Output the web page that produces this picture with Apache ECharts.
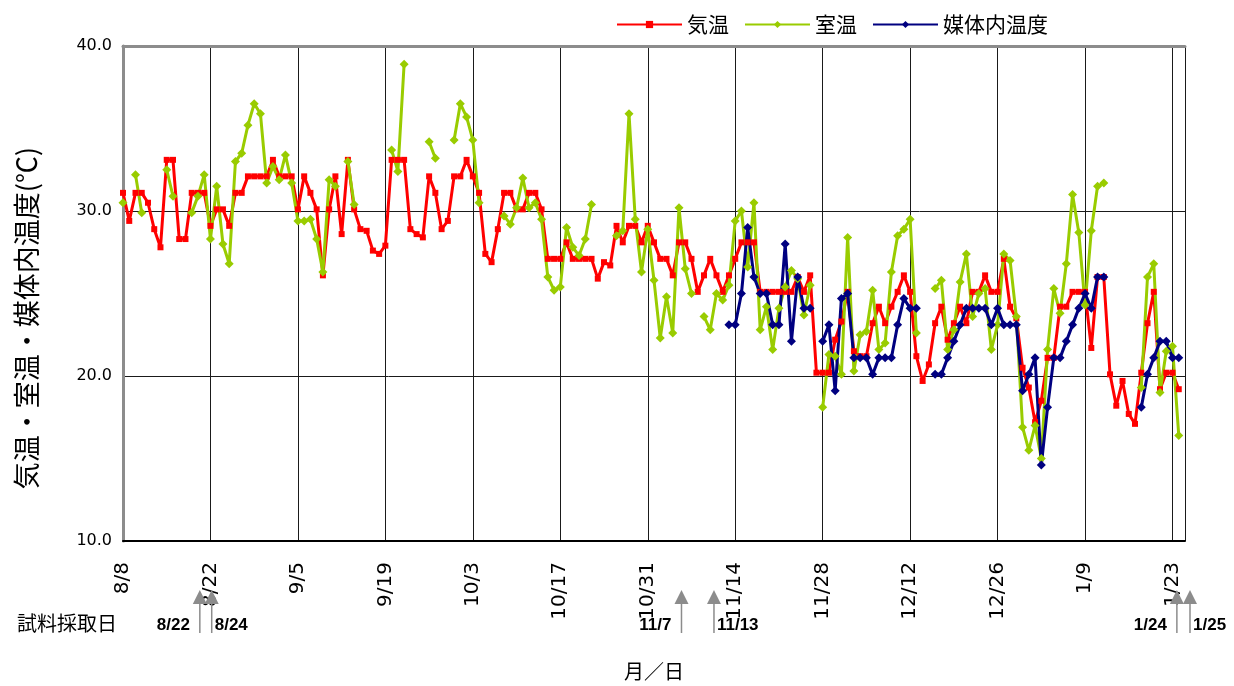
<!DOCTYPE html>
<html>
<head>
<meta charset="utf-8">
<script src="https://cdn.jsdelivr.net/npm/echarts@6/dist/echarts.min.js"></script>
<style>
  html, body { margin: 0; padding: 0; background: #ffffff; }
  #chart { width: 1234px; height: 686px; }
</style>
</head>
<body>
<div id="chart"></div>
<script>
// Day 0 = 8/8; one value per day, null where nothing was recorded.
const dayTickLabels = ['8/8', '8/22', '9/5', '9/19', '10/3', '10/17', '10/31',
  '11/14', '11/28', '12/12', '12/26', '1/9', '1/23'];

// 気温
const airTemp = [
  31.1, 29.4, 31.1, 31.1, 30.5, 28.9, 27.8, 33.1, 33.1, 28.3,
  28.3, 31.1, 31.1, 31.1, 29.1, 30.1, 30.1, 29.1, 31.1, 31.1,
  32.1, 32.1, 32.1, 32.1, 33.1, 32.1, 32.1, 32.1, 30.1, 32.1,
  31.1, 30.1, 26.1, 30.1, 32.1, 28.6, 33.1, 30.1, 28.9, 28.8,
  27.6, 27.4, 27.9, 33.1, 33.1, 33.1, 28.9, 28.6, 28.4, 32.1,
  31.1, 28.9, 29.4, 32.1, 32.1, 33.1, 32.1, 31.1, 27.4, 26.9,
  28.9, 31.1, 31.1, 30.1, 30.1, 31.1, 31.1, 30.1, 27.1, 27.1,
  27.1, 28.1, 27.1, 27.1, 27.1, 27.1, 25.9, 26.9, 26.7, 29.1,
  28.1, 29.1, 29.1, 28.1, 29.1, 28.1, 27.1, 27.1, 26.1, 28.1,
  28.1, 27.1, 25.1, 26.1, 27.1, 26.1, 25.1, 26.1, 27.1, 28.1,
  28.1, 28.1, 25.1, 25.1, 25.1, 25.1, 25.1, 25.1, 26.0, 25.1,
  26.1, 20.2, 20.2, 20.2, 22.2, 23.3, 25.1, 21.5, 21.2, 21.2,
  23.2, 24.2, 23.2, 24.2, 25.1, 26.1, 25.1, 21.2, 19.7, 20.7,
  23.2, 24.2, 22.2, 23.2, 24.2, 23.2, 25.1, 25.1, 26.1, 25.1,
  25.1, 27.1, 24.2, 23.5, 20.5, 19.3, 17.2, 18.5, 21.1, 21.1,
  24.2, 24.2, 25.1, 25.1, 25.1, 21.7, 26.0, 26.0, 20.1, 18.2,
  19.7, 17.7, 17.1, 20.2, 23.2, 25.1, 19.2, 20.2, 20.2, 19.2
];

// 室温
const roomTemp = [
  30.5, null, 32.2, 29.9, null, null, null, 32.5, 30.9, null,
  null, 29.9, 30.9, 32.2, 28.3, 31.5, 28.0, 26.8, 33.0, 33.5,
  35.2, 36.5, 35.9, 31.7, 32.7, 31.9, 33.4, 31.7, 29.4, 29.4,
  29.5, 28.3, 26.3, 31.9, 31.5, null, 33.0, 30.4, null, null,
  null, null, null, 33.7, 32.4, 38.9, null, null, null, 34.2,
  33.2, null, null, 34.3, 36.5, 35.7, 34.3, 30.5, null, null,
  null, 29.7, 29.2, 30.2, 32.0, 30.2, 30.5, 29.5, 26.0, 25.2,
  25.4, 29.0, 27.8, 27.3, 28.3, 30.4, null, null, null, 28.5,
  28.8, 35.9, 29.5, 26.3, 28.9, 25.8, 22.3, 24.8, 22.6, 30.2,
  26.5, 25.0, null, 23.6, 22.8, 25.0, 24.6, 25.5, 29.4, 30.0,
  26.6, 30.5, 22.8, 24.2, 21.6, 24.1, 25.4, 26.4, 25.9, 23.7,
  25.5, null, 18.1, 21.3, 21.2, 20.1, 28.4, 20.3, 22.5, 22.7,
  25.2, 21.6, 22.0, 26.3, 28.5, 28.9, 29.5, 22.6, null, null,
  25.3, 25.8, 21.6, 22.8, 25.7, 27.4, 23.6, 25.0, 25.3, 21.6,
  23.1, 27.4, 27.0, 23.6, 16.9, 15.5, 17.0, 15.0, 21.6, 25.3,
  23.8, 26.8, 31.0, 28.7, 24.3, 28.8, 31.5, 31.7, null, null,
  null, null, null, 19.3, 26.0, 26.8, 19.0, 21.5, 21.8, 16.4
];

// 媒体内温度 (recorded from 11/13)
const mediumTemp = [
  null, null, null, null, null, null, null, null, null, null,
  null, null, null, null, null, null, null, null, null, null,
  null, null, null, null, null, null, null, null, null, null,
  null, null, null, null, null, null, null, null, null, null,
  null, null, null, null, null, null, null, null, null, null,
  null, null, null, null, null, null, null, null, null, null,
  null, null, null, null, null, null, null, null, null, null,
  null, null, null, null, null, null, null, null, null, null,
  null, null, null, null, null, null, null, null, null, null,
  null, null, null, null, null, null, null, 23.1, 23.1, 25.0,
  29.0, 26.0, 25.0, 25.0, 23.1, 23.1, 28.0, 22.1, 26.0, 24.1,
  24.1, null, 22.1, 23.1, 19.1, 24.7, 25.0, 21.1, 21.1, 21.1,
  20.1, 21.1, 21.1, 21.1, 23.1, 24.7, 24.1, 24.1, null, null,
  20.1, 20.1, 21.1, 22.1, 23.1, 24.1, 24.1, 24.1, 24.1, 23.1,
  24.1, 23.1, 23.1, 23.1, 19.1, 20.1, 21.1, 14.6, 18.1, 21.1,
  21.1, 22.1, 23.1, 24.1, 25.0, 24.1, 26.0, 26.0, null, null,
  null, null, null, 18.1, 20.1, 21.1, 22.1, 22.1, 21.1, 21.1
];

// Sampling dates shown under the axis, and where each arrow stands (days after 8/8)
const sampleDates = ['8/22', '8/24', '11/7', '11/13', '1/24', '1/25'];
const sampleArrowDays = [12.3, 14.2, 89.4, 94.6, 168.7, 170.8];

const DAY_SPAN = 170;
const TICK_STEP = 14;

function toPairs(values) {
  return values.map((v, i) => [i, v == null ? '-' : v]);
}

const chart = echarts.init(document.getElementById('chart'), null, { renderer: 'canvas' });

const jpFont = "'Noto Sans CJK JP', 'Noto Sans', sans-serif";
const numFont = "'DejaVu Sans', 'Liberation Sans', sans-serif";

chart.setOption({
  animation: false,
  backgroundColor: '#ffffff',
  grid: { left: 123, right: 49, top: 46, bottom: 140 },
  legend: {
    left: 611,
    top: 9,
    itemWidth: 65,
    itemHeight: 9,
    itemGap: 15,
    textStyle: { fontFamily: jpFont, fontSize: 21, color: '#000' },
    data: ['気温', '室温', '媒体内温度']
  },
  xAxis: [{
    type: 'value',
    min: 0,
    max: DAY_SPAN,
    interval: TICK_STEP,
    name: '月／日',
    nameLocation: 'middle',
    nameGap: 120,
    nameTextStyle: { fontFamily: jpFont, fontSize: 20, color: '#000' },
    axisLine: { show: true, lineStyle: { color: '#000', width: 2 } },
    axisTick: { show: false },
    splitLine: { show: true, lineStyle: { color: '#1a1a1a', width: 1 } },
    axisLabel: {
      rotate: 90,
      margin: 21,
      showMaxLabel: false,
      fontFamily: numFont,
      fontSize: 20,
      color: '#000',
      formatter: v => {
        const k = Math.round(v / TICK_STEP);
        return (v % TICK_STEP === 0 && dayTickLabels[k]) ? dayTickLabels[k] : '';
      }
    }
  }, {
    type: 'value',
    position: 'top',
    min: 0,
    max: DAY_SPAN,
    axisLine: { show: true, lineStyle: { color: '#8c8c8c', width: 3 } },
    axisTick: { show: false },
    axisLabel: { show: false },
    splitLine: { show: false }
  }],
  yAxis: [{
    type: 'value',
    min: 10,
    max: 40,
    interval: 10,
    axisLine: { show: true, lineStyle: { color: '#000', width: 2 } },
    axisTick: { show: false },
    splitLine: { show: true, lineStyle: { color: '#1a1a1a', width: 1 } },
    axisLabel: {
      margin: 11,
      fontFamily: numFont,
      fontSize: 16,
      color: '#000',
      formatter: v => v.toFixed(1)
    }
  }, {
    type: 'value',
    position: 'right',
    min: 10,
    max: 40,
    axisLine: { show: true, lineStyle: { color: '#8c8c8c', width: 3 } },
    axisTick: { show: false },
    axisLabel: { show: false },
    splitLine: { show: false }
  }],
  series: [{
    name: '気温',
    type: 'line',
    data: toPairs(airTemp),
    symbol: 'rect',
    symbolSize: 6,
    showAllSymbol: true,
    itemStyle: { color: '#ff0000' },
    lineStyle: { color: '#ff0000', width: 3 }
  }, {
    name: '室温',
    type: 'line',
    data: toPairs(roomTemp),
    symbol: 'diamond',
    symbolSize: 9,
    showAllSymbol: true,
    itemStyle: { color: '#99cc00' },
    lineStyle: { color: '#99cc00', width: 3 }
  }, {
    name: '媒体内温度',
    type: 'line',
    data: toPairs(mediumTemp),
    symbol: 'diamond',
    symbolSize: 9,
    showAllSymbol: true,
    itemStyle: { color: '#000080' },
    lineStyle: { color: '#000080', width: 3 }
  }]
});

// Axis title, sampling-date arrows and their labels (arrows placed from the x axis scale)
const axisBottom = 686 - 140;
const graphics = [{
  type: 'text',
  x: 27,
  y: 318,
  rotation: Math.PI / 2,
  style: {
    text: '気温・室温・媒体内温度(℃)',
    font: '27px ' + jpFont,
    fill: '#000',
    textAlign: 'center',
    textVerticalAlign: 'middle'
  }
}, {
  type: 'text',
  left: 17,
  top: 613,
  style: { text: '試料採取日', font: '20px ' + jpFont, fill: '#000' }
}];
sampleArrowDays.forEach((d, i) => {
  const x = chart.convertToPixel({ xAxisIndex: 0 }, d);
  const tipY = axisBottom + 44;
  graphics.push({
    type: 'polygon',
    shape: { points: [[x, tipY], [x - 7, tipY + 14], [x + 7, tipY + 14]] },
    style: { fill: '#8c8c8c' },
    z: 10
  });
  graphics.push({
    type: 'line',
    shape: { x1: x, y1: tipY + 12, x2: x, y2: tipY + 43 },
    style: { stroke: '#8c8c8c', lineWidth: 1.5 },
    z: 10
  });
  const onLeft = i % 2 === 0;
  graphics.push({
    type: 'text',
    x: onLeft ? x - 10 : x + 3,
    y: 625,
    style: {
      text: sampleDates[i],
      font: 'bold 17px "Liberation Sans", sans-serif',
      fill: '#000',
      textAlign: onLeft ? 'right' : 'left',
      textVerticalAlign: 'middle'
    },
    z: 11
  });
});
chart.setOption({ graphic: graphics });
</script>
</body>
</html>
